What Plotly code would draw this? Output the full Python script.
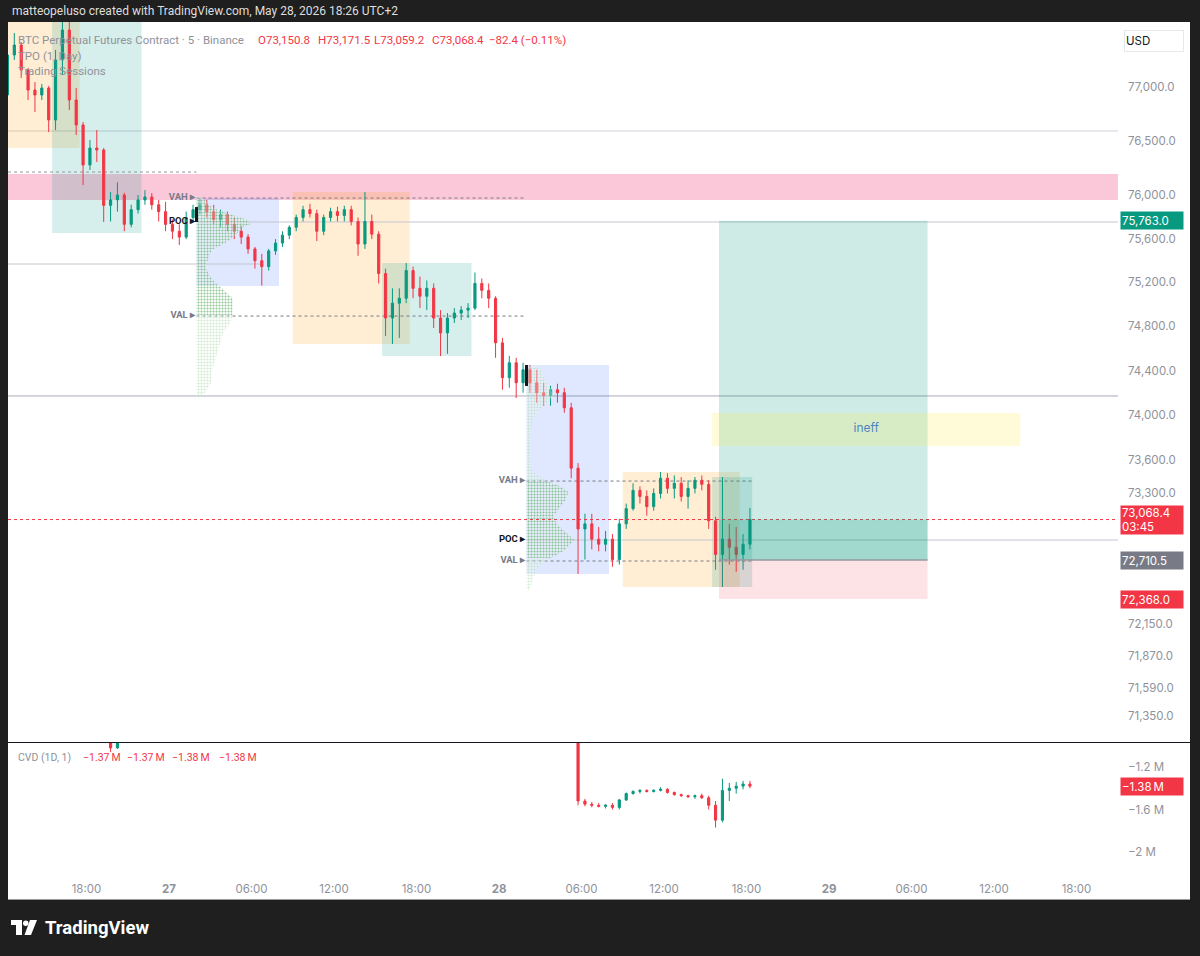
import numpy as np
import pandas as pd
import plotly.graph_objects as go

FONT = "Inter, Roboto, 'Noto Sans', sans-serif"
LFONT = "Roboto, 'Noto Sans', sans-serif"
UP, DN = "#089981", "#F23645"
GRAY_TXT = "#8f929b"

# ---------------- price: BTC perpetual, 30-minute bars (UTC+2) ----------------
bar_first = "2026-05-26 12:00"
bar_open = [76927, 77301, 77394, 77160, 76973, 76927, 76992, 76694, 77254, 77535,
            76880, 76648, 76277, 76434, 76416, 75905, 75955, 76000, 75730, 75865,
            75955, 75982, 75910, 75847, 75730, 75667, 75613, 75793, 75865, 75910,
            75847, 75775, 75820, 75730, 75667, 75613, 75505, 75397, 75343, 75487,
            75559, 75631, 75703, 75793, 75865, 75829, 75667, 75793, 75847, 75811,
            75865, 75757, 75550, 75757, 75640, 75280, 74875, 75010, 75055, 75307,
            75145, 75073, 75145, 74875, 74740, 74875, 74920, 74947, 74965, 75190,
            75127, 75055, 74650, 74335, 74470, 74290, 74407, 74290, 74200, 74173,
            74227, 74200, 74065, 73525, 72985, 73030, 72895, 72850, 72895, 72715,
            73030, 73165, 73327, 73273, 73183, 73300, 73435, 73345, 73390, 73273,
            73345, 73417, 73381, 73057, 72760, 72895, 72823, 72760, 72850]
bar_high = [77394, 77507, 77423, 77179, 77048, 77030, 77011, 77348, 77648, 77629,
            76992, 76675, 76508, 76601, 76434, 76027, 76117, 76020, 75910, 76000,
            76045, 76018, 75955, 75937, 75775, 75730, 75847, 75910, 75973, 75955,
            75910, 75865, 75847, 75793, 75721, 75640, 75523, 75460, 75505, 75595,
            75667, 75721, 75820, 75901, 75919, 75865, 75820, 75883, 75892, 75901,
            75901, 75793, 76028, 75820, 75667, 75325, 75145, 75145, 75376, 75343,
            75253, 75217, 75190, 74947, 74920, 74965, 74983, 75010, 75289, 75235,
            75190, 75073, 74695, 74533, 74515, 74470, 74450, 74407, 74290, 74263,
            74281, 74245, 74110, 73570, 73120, 73120, 73003, 72967, 72940, 73075,
            73210, 73390, 73363, 73327, 73345, 73491, 73480, 73460, 73445, 73417,
            73446, 73460, 73417, 73093, 73446, 73030, 73003, 72940, 73171.5]
bar_low = [76834, 77254, 77085, 76880, 76768, 76880, 76582, 76601, 77113, 76787,
           76555, 76092, 76231, 76305, 75752, 75757, 75847, 75667, 75703, 75829,
           75910, 75865, 75757, 75667, 75595, 75541, 75595, 75757, 75820, 75793,
           75730, 75703, 75667, 75595, 75550, 75460, 75325, 75170, 75307, 75451,
           75523, 75595, 75667, 75757, 75793, 75577, 75631, 75757, 75757, 75757,
           75721, 75442, 75505, 75595, 75190, 74713, 74640, 74695, 75010, 75055,
           74965, 74947, 74785, 74531, 74551, 74830, 74857, 74875, 74947, 75055,
           74965, 74515, 74227, 74245, 74153, 74200, 74200, 74110, 74083, 74083,
           74110, 74020, 73435, 72588, 72715, 72805, 72787, 72787, 72652, 72670,
           72985, 73147, 73210, 73102, 73147, 73255, 73300, 73255, 73228, 73165,
           73300, 73327, 72985, 72625, 72473, 72670, 72607, 72625, 72805]
bar_close = [77301, 77394, 77160, 76973, 76927, 76992, 76694, 77254, 77535, 76880,
             76648, 76277, 76434, 76416, 75905, 75955, 76000, 75730, 75865, 75955,
             75982, 75910, 75847, 75730, 75667, 75613, 75793, 75865, 75910, 75847,
             75775, 75820, 75730, 75667, 75613, 75505, 75397, 75343, 75487, 75559,
             75631, 75703, 75793, 75865, 75829, 75667, 75793, 75847, 75811, 75865,
             75757, 75550, 75757, 75640, 75280, 74875, 75010, 75055, 75307, 75145,
             75073, 75145, 74875, 74740, 74875, 74920, 74947, 74965, 75190, 75127,
             75055, 74650, 74335, 74470, 74290, 74407, 74290, 74200, 74173, 74227,
             74200, 74065, 73525, 72985, 73030, 72895, 72850, 72895, 72715, 73030,
             73165, 73327, 73273, 73183, 73300, 73435, 73345, 73390, 73273, 73345,
             73417, 73381, 73057, 72760, 72895, 72823, 72760, 72850, 73068.4]

# ---------------- CVD (1D, 1), in millions, 30-minute bars ----------------
cvd_time = ["2026-05-26 19:30", "2026-05-26 20:00",
            "2026-05-28 05:30", "2026-05-28 06:00", "2026-05-28 06:30", "2026-05-28 07:00",
            "2026-05-28 07:30", "2026-05-28 08:00", "2026-05-28 08:30", "2026-05-28 09:00",
            "2026-05-28 09:30", "2026-05-28 10:00", "2026-05-28 10:30", "2026-05-28 11:00",
            "2026-05-28 11:30", "2026-05-28 12:00", "2026-05-28 12:30", "2026-05-28 13:00",
            "2026-05-28 13:30", "2026-05-28 14:00", "2026-05-28 14:30", "2026-05-28 15:00",
            "2026-05-28 15:30", "2026-05-28 16:00", "2026-05-28 16:30", "2026-05-28 17:00",
            "2026-05-28 17:30", "2026-05-28 18:00"]
cvd_open = [-0.92, -1.02,
            -0.90, -1.52, -1.55, -1.56, -1.57, -1.56, -1.58, -1.51, -1.45, -1.43, -1.42, -1.43,
            -1.42, -1.41, -1.44, -1.46, -1.47, -1.48, -1.47, -1.49, -1.56, -1.70, -1.42, -1.40,
            -1.38, -1.36]
cvd_high = [-0.90, -0.92,
            -0.90, -1.50, -1.53, -1.54, -1.55, -1.54, -1.50, -1.44, -1.42, -1.41, -1.41, -1.41,
            -1.39, -1.40, -1.43, -1.45, -1.46, -1.46, -1.45, -1.47, -1.52, -1.31, -1.35, -1.34,
            -1.33, -1.33]
cvd_low = [-1.06, -1.03,
           -1.56, -1.57, -1.58, -1.58, -1.59, -1.60, -1.60, -1.52, -1.46, -1.45, -1.44, -1.44,
           -1.43, -1.45, -1.47, -1.48, -1.49, -1.50, -1.50, -1.60, -1.77, -1.72, -1.52, -1.45,
           -1.41, -1.40]
cvd_close = [-1.02, -0.94,
             -1.52, -1.55, -1.56, -1.57, -1.56, -1.58, -1.51, -1.45, -1.43, -1.42, -1.43, -1.42,
             -1.41, -1.44, -1.46, -1.47, -1.48, -1.47, -1.49, -1.56, -1.70, -1.42, -1.40, -1.38,
             -1.36, -1.38]

# ---------------- trading sessions ----------------
sess_kind = ["London", "NY", "Asia", "London", "NY", "Asia", "London", "NY"]
sess_start = ["2026-05-26 09:00", "2026-05-26 15:30", "2026-05-27 02:00", "2026-05-27 09:00",
              "2026-05-27 15:30", "2026-05-28 02:00", "2026-05-28 09:00", "2026-05-28 15:30"]
sess_end = ["2026-05-26 17:30", "2026-05-26 22:00", "2026-05-27 08:00", "2026-05-27 17:30",
            "2026-05-27 22:00", "2026-05-28 08:00", "2026-05-28 17:30", "2026-05-28 18:25"]
sess_high = [77700, 77648, 75972, 76028, 75376, 74450, 73491, 73446]
sess_low = [76434, 75651, 75166, 74640, 74531, 72588, 72473, 72473]
sess_color = {"Asia": "rgba(41,98,255,0.15)", "London": "rgba(255,152,0,0.17)",
              "NY": "rgba(0,150,136,0.16)"}

# ---------------- TPO (1, Day) profiles ----------------
tpo_start = ["2026-05-27 02:00", "2026-05-28 02:00"]
tpo_end = ["2026-05-28 01:55", "2026-05-28 18:25"]
tpo27_price = [75991, 75954, 75908, 75862, 75816, 75770, 75733, 75697, 75660, 75605,
               75550, 75495, 75422, 75349, 75276, 75203, 75130, 75057, 74984, 74893,
               74821, 74748, 74658, 74567, 74477, 74387, 74297, 74207, 74153]
tpo27_blocks = [1, 3, 4, 7, 12, 17, 18, 15, 14, 12, 9, 5, 4, 3, 4, 6, 9, 12, 12, 12,
                11, 9, 8, 7, 6, 5, 5, 3, 1]
tpo28_price = [74441, 74387, 74315, 74243, 74171, 74117, 74045, 73955, 73776, 73598,
               73491, 73419, 73366, 73313, 73242, 73171, 73100, 73029, 72958, 72887,
               72834, 72781, 72729, 72676, 72605, 72535, 72447]
tpo28_blocks = [4, 5, 6, 8, 9, 7, 4, 2, 1, 1, 2, 6, 11, 14, 13, 11, 9, 10, 13, 16,
                14, 12, 8, 5, 3, 2, 1]
tpo_vah = [75972, 73410]
tpo_poc = [75752, 72887]
tpo_val = [74893, 72702]
tpo_open_hi = [75889, 74450]
tpo_open_lo = [75752, 74261]
prev_vah = 76212
prev_poc = 75367
prev_poc_touch = "2026-05-27 06:45"
BLOCK_MIN = 13.09

# ---------------- drawings ----------------
hline_price = [76592, 74171]
hline_color = ["#cfd2da", "#a9acb5"]
zone_lo, zone_hi = 75954, 76194
pos_start, pos_end = "2026-05-28 16:00", "2026-05-29 07:10"
pos_entry, pos_target, pos_stop = 72710.5, 75763.0, 72368.0
last_price = 73068.4
ineff_start, ineff_end = "2026-05-28 15:30", "2026-05-29 13:55"
ineff_lo, ineff_hi = 73723, 74018

price_ticks = [77000, 76500, 76000, 75600, 75200, 74800, 74400, 74000, 73600, 73300,
               72150, 71870, 71590, 71350]
cvd_ticks = [-1.2, -1.6, -2.0]
cvd_ticktext = ["\u22121.2 M", "\u22121.6 M", "\u22122 M"]
time_ticks = ["2026-05-26 18:00", "2026-05-27 00:00", "2026-05-27 06:00", "2026-05-27 12:00",
              "2026-05-27 18:00", "2026-05-28 00:00", "2026-05-28 06:00", "2026-05-28 12:00",
              "2026-05-28 18:00", "2026-05-29 00:00", "2026-05-29 06:00", "2026-05-29 12:00",
              "2026-05-29 18:00"]
time_ticktext = ["18:00", "<b>27</b>", "06:00", "12:00", "18:00", "<b>28</b>", "06:00",
                 "12:00", "18:00", "<b>29</b>", "06:00", "12:00", "18:00"]

# ---------------- geometry ----------------
W, H = 1200, 956
ML, MR, MT, MB = 8, 82, 22, 81
PW, PH = W - ML - MR, H - MT - MB


def px(x):
    return (x - ML) / PW


def py(y):
    return (H - MB - y) / PH


X_RANGE = ["2026-05-26 12:17:27", "2026-05-29 21:01:05"]
P_LO, P_HI = 71124.4, 77610.6
CVD_RANGE = [-2.2165, -0.974]

bar_t = pd.date_range(bar_first, periods=len(bar_close), freq="30min") + pd.Timedelta(minutes=15)
cvd_t = pd.to_datetime(cvd_time) + pd.Timedelta(minutes=15)

fig = go.Figure()


# TPO profiles (dotted texture)
def profile_poly(start, prices, blocks, lo=None, hi=None):
    t0 = pd.Timestamp(start)
    pr, bl = [], []
    for p, b in zip(prices, blocks):
        if lo is not None and (p < lo - 5 or p > hi + 10):
            continue
        pr.append(p)
        bl.append(b)
    xs = [t0] + [t0 + pd.Timedelta(minutes=b * BLOCK_MIN) for b in bl] + [t0]
    ys = [pr[0]] + pr + [pr[-1]]
    return xs, ys


for i, (pr, bl) in enumerate([(tpo27_price, tpo27_blocks), (tpo28_price, tpo28_blocks)]):
    xs, ys = profile_poly(tpo_start[i], pr, bl)
    fig.add_trace(go.Scatter(x=xs, y=ys, mode="lines", line=dict(width=0), fill="toself",
                             fillcolor="rgba(0,0,0,0)",
                             fillpattern=dict(shape=".", fgcolor="rgba(120,195,120,0.7)",
                                              bgcolor="rgba(255,255,255,0.3)", size=3, solidity=0.4),
                             hoverinfo="skip", showlegend=False))
    xs, ys = profile_poly(tpo_start[i], pr, bl, tpo_val[i], tpo_vah[i])
    fig.add_trace(go.Scatter(x=xs, y=ys, mode="lines", line=dict(width=0), fill="toself",
                             fillcolor="rgba(0,0,0,0)",
                             fillpattern=dict(shape=".", fgcolor="rgba(60,145,70,0.85)",
                                              bgcolor="rgba(0,0,0,0)", size=3, solidity=0.35),
                             hoverinfo="skip", showlegend=False))

# price candles
fig.add_trace(go.Candlestick(x=bar_t, open=bar_open, high=bar_high, low=bar_low, close=bar_close,
                             increasing=dict(line=dict(color=UP, width=1), fillcolor=UP),
                             decreasing=dict(line=dict(color=DN, width=1), fillcolor=DN),
                             whiskerwidth=0, hoverinfo="skip", showlegend=False,
                             xaxis="x", yaxis="y"))
# CVD candles
fig.add_trace(go.Candlestick(x=cvd_t, open=cvd_open, high=cvd_high, low=cvd_low, close=cvd_close,
                             increasing=dict(line=dict(color=UP, width=1), fillcolor=UP),
                             decreasing=dict(line=dict(color=DN, width=1), fillcolor=DN),
                             whiskerwidth=0, hoverinfo="skip", showlegend=False,
                             xaxis="x", yaxis="y2"))

# VAH / POC / VAL labels
for i in range(2):
    lx = pd.Timestamp(tpo_start[i]) - pd.Timedelta(minutes=6)
    fig.add_trace(go.Scatter(x=[lx, lx, lx], y=[tpo_vah[i], tpo_poc[i], tpo_val[i]],
                             mode="text", text=["VAH \u25b8", "POC \u25b8", "VAL \u25b8"],
                             textposition="middle left",
                             textfont=dict(family=LFONT, size=9.5, weight="bold",
                                           color=["#787B86", "#131722", "#787B86"]),
                             hoverinfo="skip", showlegend=False))

# ineff label
ineff_mid = pd.Timestamp(ineff_start) + (pd.Timestamp(ineff_end) - pd.Timestamp(ineff_start)) / 2
fig.add_trace(go.Scatter(x=[ineff_mid], y=[np.sqrt(ineff_lo * ineff_hi)], mode="text", text=["ineff"],
                         textfont=dict(family=FONT, size=12, color="#2962FF"),
                         hoverinfo="skip", showlegend=False))

shapes = []
# white chart canvas
shapes.append(dict(type="rect", xref="paper", yref="paper", x0=px(8), x1=px(1190), y0=py(900), y1=py(22),
                   fillcolor="white", line=dict(width=0), layer="below"))
# sessions
for k, s, e, hi, lo in zip(sess_kind, sess_start, sess_end, sess_high, sess_low):
    shapes.append(dict(type="rect", xref="x", yref="y", x0=s, x1=e, y0=lo, y1=hi,
                       fillcolor=sess_color[k], line=dict(width=0), layer="below"))
# supply zone
shapes.append(dict(type="rect", xref="paper", yref="y", x0=0, x1=1, y0=zone_lo, y1=zone_hi,
                   fillcolor="rgba(240,98,146,0.35)", line=dict(width=0), layer="below"))
# user horizontal lines
for p, c in zip(hline_price, hline_color):
    shapes.append(dict(type="line", xref="paper", yref="y", x0=0, x1=1, y0=p, y1=p,
                       line=dict(color=c, width=1), layer="below"))
# previous-day TPO levels
shapes.append(dict(type="line", xref="x", yref="y", x0=X_RANGE[0], x1=tpo_start[0], y0=prev_vah, y1=prev_vah,
                   line=dict(color="#9598A1", width=1, dash="dot"), layer="below"))
shapes.append(dict(type="line", xref="x", yref="y", x0=X_RANGE[0], x1=prev_poc_touch, y0=prev_poc, y1=prev_poc,
                   line=dict(color="#c3c6ce", width=1), layer="below"))
for i in range(2):
    for lv in (tpo_vah[i], tpo_val[i]):
        shapes.append(dict(type="line", xref="x", yref="y", x0=tpo_start[i], x1=tpo_end[i], y0=lv, y1=lv,
                           line=dict(color="#787B86", width=1, dash="dot"), layer="below"))
    shapes.append(dict(type="line", xref="x", yref="y", x0=tpo_start[i], x1=X_RANGE[1],
                       y0=tpo_poc[i], y1=tpo_poc[i], line=dict(color="#c3c6ce", width=1), layer="below"))
    shapes.append(dict(type="line", xref="x", yref="y", x0=tpo_start[i], x1=tpo_start[i],
                       y0=tpo_open_lo[i], y1=tpo_open_hi[i], line=dict(color="#131722", width=3), layer="above"))
# last price line
shapes.append(dict(type="line", xref="paper", yref="y", x0=0, x1=1, y0=last_price, y1=last_price,
                   line=dict(color="#F23645", width=1, dash="dot"), layer="above"))
# long position
shapes.append(dict(type="rect", xref="x", yref="y", x0=pos_start, x1=pos_end, y0=pos_entry, y1=pos_target,
                   fillcolor="rgba(8,153,129,0.2)", line=dict(width=0), layer="above"))
shapes.append(dict(type="rect", xref="x", yref="y", x0=pos_start, x1=pos_end, y0=pos_stop, y1=pos_entry,
                   fillcolor="rgba(242,54,69,0.14)", line=dict(width=0), layer="above"))
shapes.append(dict(type="rect", xref="x", yref="y", x0=pos_start, x1=pos_end, y0=pos_entry, y1=last_price,
                   fillcolor="rgba(8,153,129,0.22)", line=dict(width=0), layer="above"))
shapes.append(dict(type="line", xref="x", yref="y", x0=pos_start, x1=pos_end, y0=pos_entry, y1=pos_entry,
                   line=dict(color="#9598A1", width=1.5), layer="above"))
# ineff zone
shapes.append(dict(type="rect", xref="x", yref="y", x0=ineff_start, x1=ineff_end, y0=ineff_lo, y1=ineff_hi,
                   fillcolor="rgba(255,235,59,0.2)", line=dict(width=0), layer="above"))
# pane divider and bottom border
shapes.append(dict(type="line", xref="paper", yref="paper", x0=px(8), x1=px(1190), y0=py(742.5), y1=py(742.5),
                   line=dict(color="#131722", width=1)))
shapes.append(dict(type="line", xref="paper", yref="paper", x0=px(8), x1=px(1190), y0=py(899.5), y1=py(899.5),
                   line=dict(color="#9a9a9a", width=1)))
# TradingView logo mark
shapes.append(dict(type="rect", xref="paper", yref="paper", x0=px(11), x1=px(22), y0=py(925), y1=py(920),
                   fillcolor="white", line=dict(width=0)))
shapes.append(dict(type="rect", xref="paper", yref="paper", x0=px(16), x1=px(22), y0=py(935), y1=py(920),
                   fillcolor="white", line=dict(width=0)))
shapes.append(dict(type="circle", xref="paper", yref="paper", x0=px(23), x1=px(28.5), y0=py(926), y1=py(920.5),
                   fillcolor="white", line=dict(width=0)))
shapes.append(dict(type="path", xref="paper", yref="paper",
                   path=f"M {px(30)} {py(920)} L {px(37)} {py(920)} L {px(31)} {py(935)} L {px(24.5)} {py(935)} Z",
                   fillcolor="white", line=dict(width=0)))

ann = []


def txt(x, y, s, color=GRAY_TXT, size=12, family=LFONT, **kw):
    d = dict(xref="paper", yref="paper", x=px(x), y=py(y), text=s, showarrow=False,
             xanchor="left", yanchor="middle", font=dict(family=family, size=size, color=color))
    d.update(kw)
    ann.append(d)


txt(10, 11, "matteopeluso created with TradingView.com, May 28, 2026 18:26 UTC+2", "#dedede", 12)
txt(16, 40, "BTC Perpetual Futures Contract \u00b7 5 \u00b7 Binance", GRAY_TXT, 11.5)
for x, s in [(256, "O73,150.8"), (316, "H73,171.5"), (372, "L73,059.2"), (430, "C73,068.4"),
             (487, "\u221282.4 (\u22120.11%)")]:
    txt(x, 40, s, DN, 11.5)
txt(16, 56, "TPO (1, Day)", GRAY_TXT, 11.5)
txt(16, 71, "Trading Sessions", GRAY_TXT, 11.5)
txt(16, 757, "CVD (1D, 1)", GRAY_TXT, 10.5)
for x, s in [(81, "\u22121.37\u2009M"), (125, "\u22121.37\u2009M"), (170, "\u22121.38\u2009M"),
             (217, "\u22121.38\u2009M")]:
    txt(x, 757, s, DN, 10.5)
txt(43, 928, "<b>TradingView</b>", "white", 18.5)
# USD box
ann.append(dict(xref="paper", yref="paper", x=px(1154), y=py(41), xanchor="center", yanchor="middle",
                text="USD", showarrow=False,
                font=dict(family=FONT, size=11.5, color="#131722"), bgcolor="white",
                bordercolor="#e6e8ee", borderwidth=1, width=56, height=18, align="left"))


def plabel(val, s, bg, yref="y", h=15):
    yv = np.log10(val) if yref == "y" else val
    ann.append(dict(xref="paper", yref=yref, x=1.0, y=yv, xanchor="left", yanchor="middle", xshift=2,
                    text=s, showarrow=False, bgcolor=bg, width=60, height=h, align="left",
                    font=dict(family=FONT, size=11.5, color="white")))


plabel(pos_target, "75,763.0", UP)
plabel(last_price, "73,068.4<br>03:45", DN, h=26)
plabel(pos_entry, "72,710.5", "#787B86")
plabel(pos_stop, "72,368.0", DN)
plabel(cvd_close[-1], "\u22121.38\u2009M", DN, yref="y2")

fig.update_layout(
    width=W, height=H, autosize=False,
    margin=dict(l=ML, r=MR, t=MT, b=MB, pad=0),
    paper_bgcolor="#1f1f1f", plot_bgcolor="white",
    showlegend=False, boxgap=0.55,
    shapes=shapes, annotations=ann,
    xaxis=dict(type="date", range=X_RANGE, anchor="y2", domain=[0, 1],
               showgrid=False, zeroline=False, showline=False, ticks="",
               tickvals=time_ticks, ticktext=time_ticktext, ticklabelstandoff=5,
               tickfont=dict(family=FONT, size=11.5, color=GRAY_TXT),
               rangeslider=dict(visible=False), fixedrange=True),
    yaxis=dict(type="log", range=[np.log10(P_LO), np.log10(P_HI)], domain=[py(742), 1.0],
               side="right", anchor="x", showgrid=False, zeroline=False, showline=False, ticks="",
               tickvals=price_ticks, ticktext=[f"{v:,.1f}" for v in price_ticks],
               ticklabelstandoff=9, tickfont=dict(family=FONT, size=11.5, color=GRAY_TXT)),
    yaxis2=dict(range=CVD_RANGE, domain=[0, py(743)], side="right", anchor="x",
                showgrid=False, zeroline=False, showline=False, ticks="",
                tickvals=cvd_ticks, ticktext=cvd_ticktext, ticklabelstandoff=9,
                tickfont=dict(family=FONT, size=11.5, color=GRAY_TXT)),
)

fig.write_html("out.html")
